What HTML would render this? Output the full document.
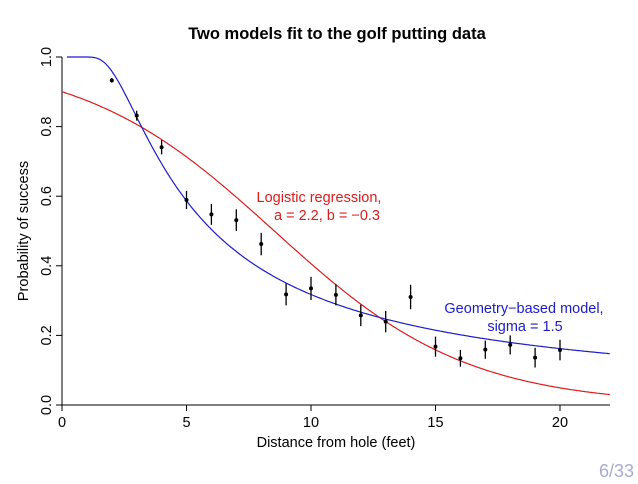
<!DOCTYPE html>
<html><head><meta charset="utf-8"><style>
body{margin:0;background:#fff}
svg text{font-family:"Liberation Sans",sans-serif}
</style></head><body>
<svg width="638" height="479" viewBox="0 0 638 479">
<text x="337" y="39" text-anchor="middle" font-size="16.5" font-weight="bold">Two models fit to the golf putting data</text>
<g id="axes"></g>
<g id="curves"></g>
<g id="pts"></g>
<text x="319" y="202" text-anchor="middle" font-size="14.5" fill="#dd1c1c">Logistic regression,</text>
<text x="327" y="220" text-anchor="middle" font-size="14.5" fill="#dd1c1c">a = 2.2, b = −0.3</text>
<text x="524" y="313" text-anchor="middle" font-size="14.5" fill="#1c1ccc">Geometry−based model,</text>
<text x="525" y="331" text-anchor="middle" font-size="14.5" fill="#1c1ccc">sigma = 1.5</text>
<text x="336" y="447" text-anchor="middle" font-size="14.5">Distance from hole (feet)</text>
<text transform="translate(28,231) rotate(-90)" text-anchor="middle" font-size="14.5">Probability of success</text>
<text x="634" y="477" text-anchor="end" font-size="18" fill="#aaaad0">6/33</text>
</svg>
<script>
const distances=[2,3,4,5,6,7,8,9,10,11,12,13,14,15,16,17,18,19,20];
const attempts=[1443,694,455,353,272,256,240,217,200,237,202,192,174,167,201,195,191,147,152];
const successes=[1346,577,337,208,149,136,111,69,67,75,52,46,54,28,27,31,33,20,24];
const xTicks=[0,5,10,15,20];
const yTicks=[0,0.2,0.4,0.6,0.8,1.0];
const yTickLabels=["0.0","0.2","0.4","0.6","0.8","1.0"];
const logisticParams=[2.2,-0.258];
const geometryParams=[1.5];
const NS="http://www.w3.org/2000/svg";
const X=v=>62+v*24.9, Y=v=>405-v*348;
function mk(t,a,p){const e=document.createElementNS(NS,t);for(const k in a)e.setAttribute(k,a[k]);p.appendChild(e);return e;}
const ax=document.getElementById('axes');
mk('line',{x1:62,y1:405,x2:610,y2:405,stroke:'#000'},ax);
mk('line',{x1:62,y1:405,x2:62,y2:Y(1),stroke:'#000'},ax);
xTicks.forEach(t=>{mk('line',{x1:X(t),y1:405,x2:X(t),y2:411,stroke:'#000'},ax);
const tx=mk('text',{x:X(t),y:427,'text-anchor':'middle','font-size':'14.5'},ax);tx.textContent=t;

});
yTicks.forEach((t,i)=>{mk('line',{x1:56,y1:Y(t),x2:62,y2:Y(t),stroke:'#000'},ax);
const tx=mk('text',{transform:`translate(51,${Y(t)}) rotate(-90)`,'text-anchor':'middle','font-size':'14.5'},ax);tx.textContent=yTickLabels[i];

});
function Phi(z){const t=1/(1+0.2316419*Math.abs(z));const d=0.3989423*Math.exp(-z*z/2);let p=d*t*(0.3193815+t*(-0.3565638+t*(1.781478+t*(-1.821256+t*1.330274))));return z>0?1-p:p;}
const cv=document.getElementById('curves');
let lg='',gm='';
for(let x=0;x<=22.001;x+=0.05){
 const pl=1/(1+Math.exp(-(logisticParams[0]+logisticParams[1]*x)));
 lg+=(lg?'L':'M')+X(x).toFixed(1)+','+Y(pl).toFixed(1);
 if(x>=0.2){const r=(4.25-1.68)/2/12;const s=geometryParams[0]*Math.PI/180;
 const pg=2*Phi(Math.asin(Math.min(1,r/x))/s)-1;
 gm+=(gm?'L':'M')+X(x).toFixed(1)+','+Y(pg).toFixed(1);}
}
const l1=mk('path',{d:lg,fill:'none',stroke:'#dd1c1c','stroke-width':1.2},cv);


const l2=mk('path',{d:gm,fill:'none',stroke:'#1c1ccc','stroke-width':1.2},cv);


const pg=document.getElementById('pts');
distances.forEach((d,i)=>{const p=successes[i]/attempts[i];const se=Math.sqrt(p*(1-p)/attempts[i]);
 const ln=mk('line',{x1:X(d),y1:Y(p+se),x2:X(d),y2:Y(p-se),stroke:'#000','stroke-width':1.3},pg);
 
 
 const c=mk('circle',{cx:X(d),cy:Y(p),r:2,fill:'#000'},pg);
 
 });
</script>
</body></html>
